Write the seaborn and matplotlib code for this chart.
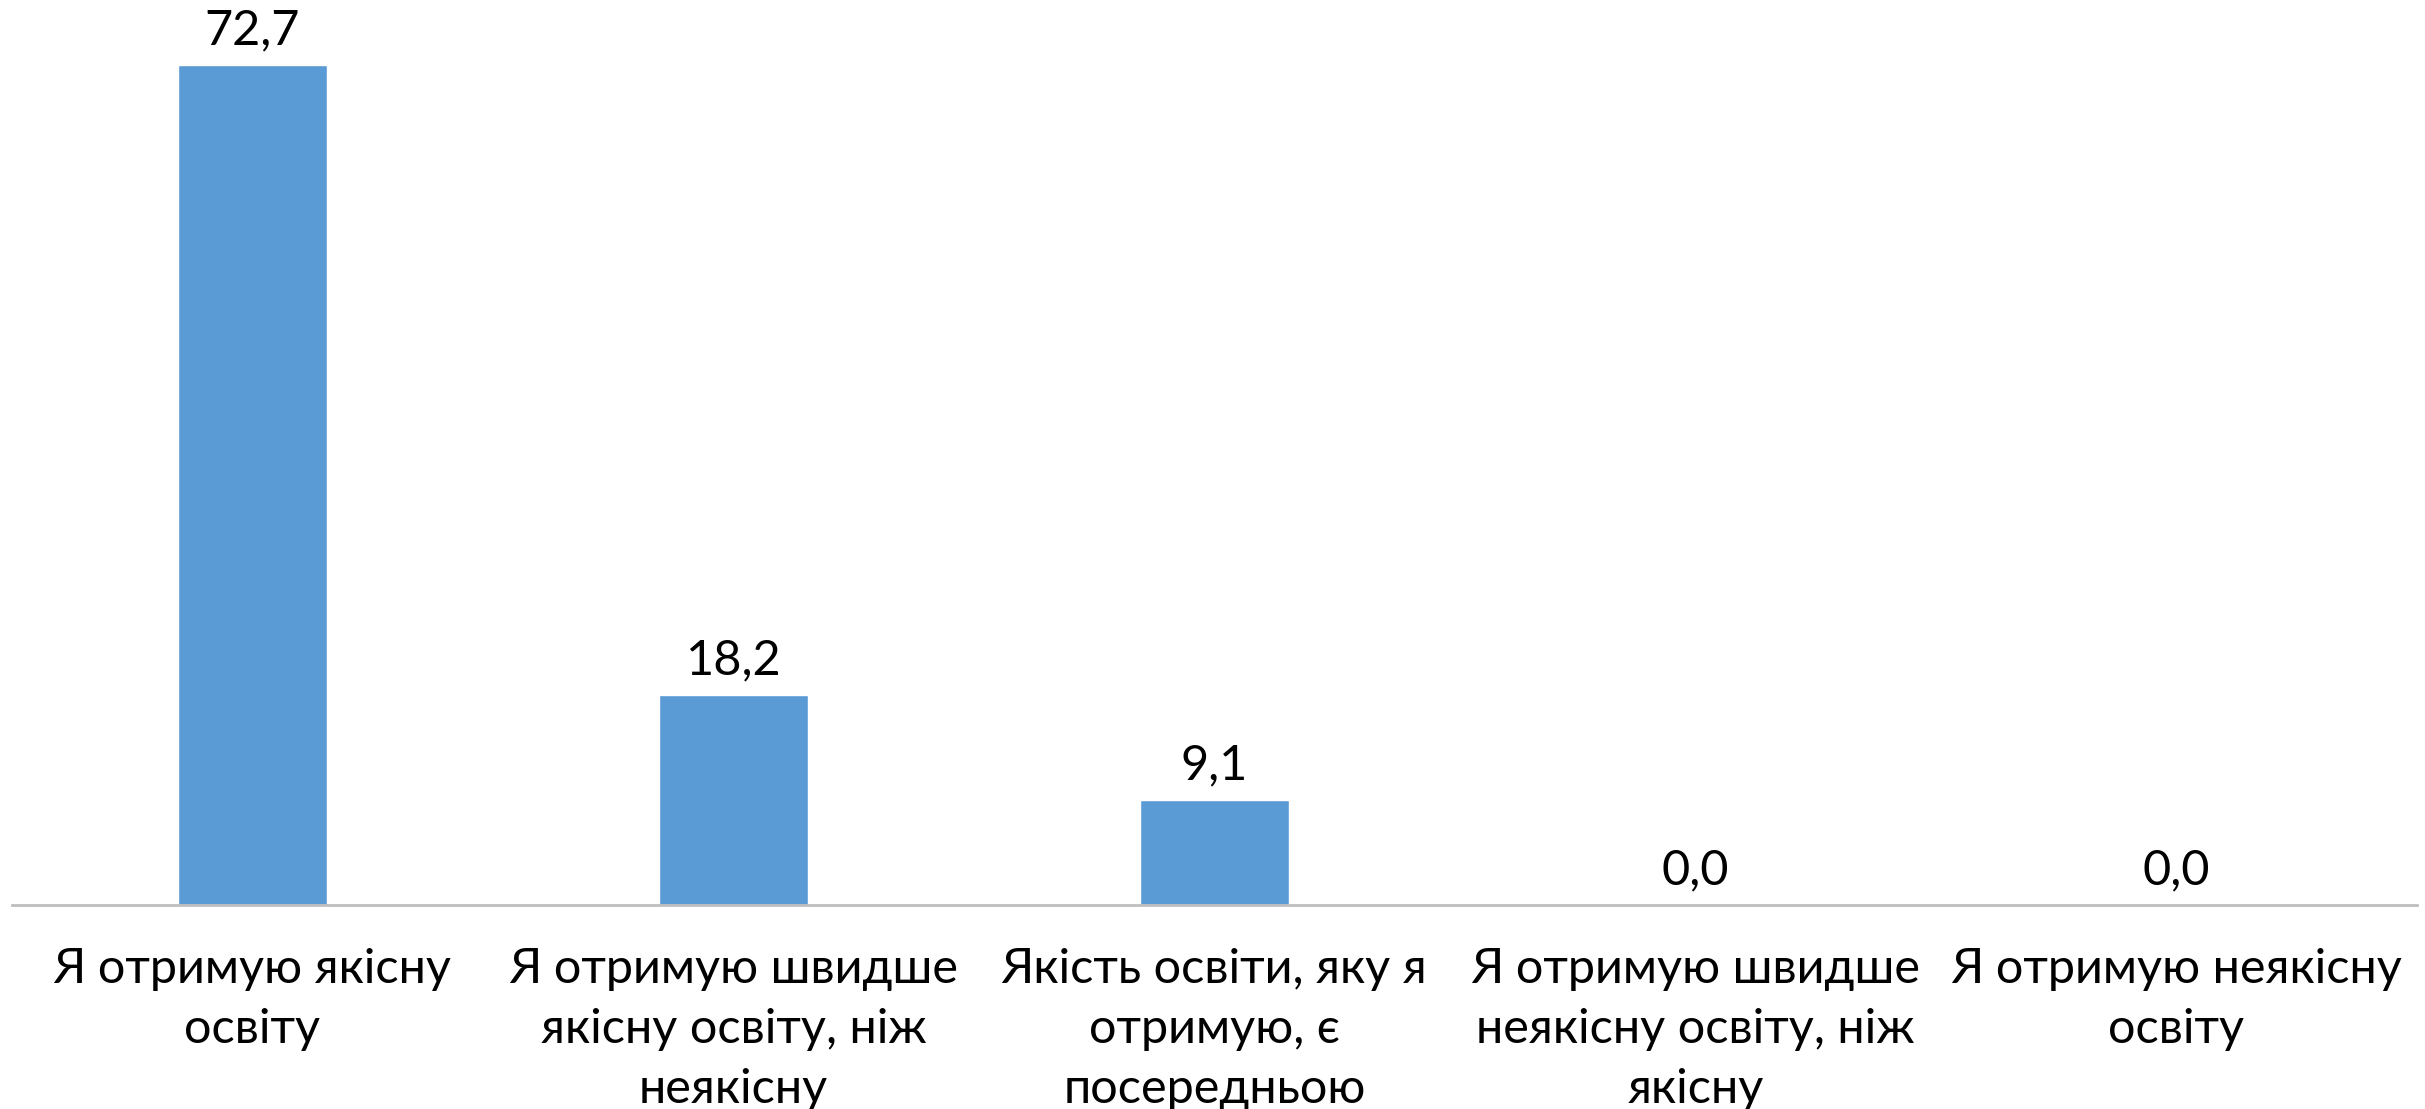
import matplotlib
matplotlib.use("Agg")
import matplotlib.pyplot as plt
import seaborn as sns
import pandas as pd

# data
categories = [
    "Я отримую якісну\nосвіту",
    "Я отримую швидше\nякісну освіту, ніж\nнеякісну",
    "Якість освіти, яку я\nотримую, є\nпосередньою",
    "Я отримую швидше\nнеякісну освіту, ніж\nякісну",
    "Я отримую неякісну\nосвіту",
]
values = [72.7, 18.2, 9.1, 0.0, 0.0]

df = pd.DataFrame({"cat": categories, "val": values})

sns.set_style("white")
plt.rcParams["font.family"] = ["Lato", "Noto Sans", "DejaVu Sans"]

fig = plt.figure(figsize=(24.25, 11.09), dpi=100)
ax = fig.add_axes([12 / 2425, (1109 - 905) / 1109, 2405 / 2425, 905 / 1109])

sns.barplot(data=df, x="cat", y="val", color="#5B9BD5", saturation=1,
            width=0.31, ax=ax)

ax.set_ylim(0, 78.35)
ax.set_xlim(-0.5, len(categories) - 0.5)

# value labels with comma decimal separator
ax.bar_label(ax.containers[0],
             labels=[f"{v:.1f}".replace(".", ",") for v in values],
             padding=9, fontsize=35, color="black")

ax.set_xlabel("")
ax.set_ylabel("")
ax.set_yticks([])
ax.tick_params(axis="x", length=0, pad=30, labelsize=35, labelcolor="black")
for lab in ax.get_xticklabels():
    lab.set_linespacing(1.45)
    lab.set_verticalalignment("top")

for s in ["top", "right", "left"]:
    ax.spines[s].set_visible(False)
ax.spines["bottom"].set_color("#BFBFBF")
ax.spines["bottom"].set_linewidth(2)

fig.savefig("out.png", dpi=100)
